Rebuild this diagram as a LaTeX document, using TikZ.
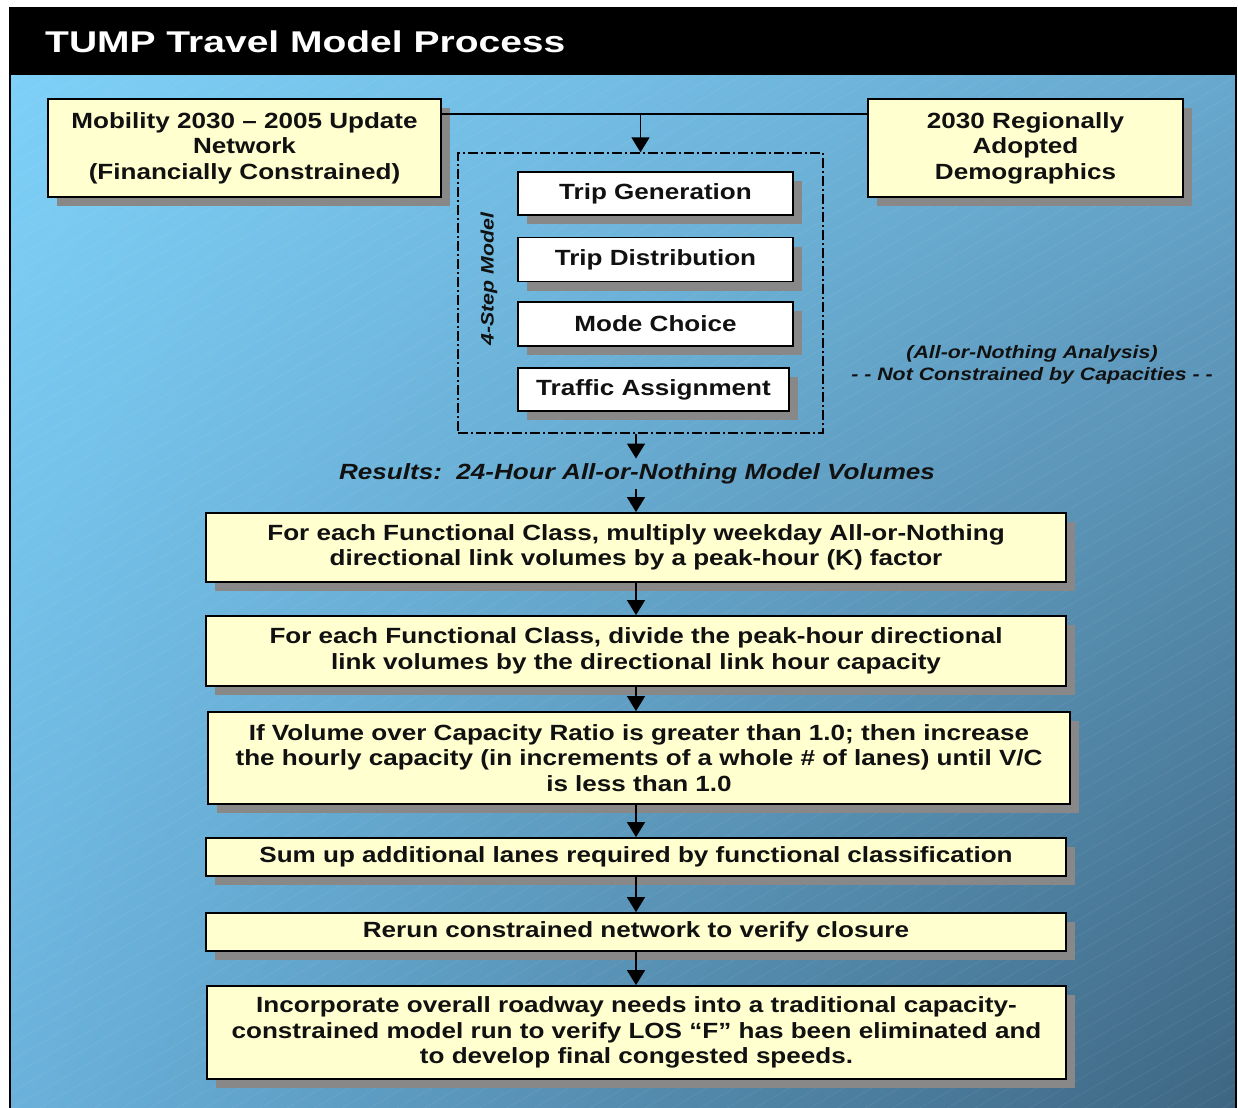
\documentclass[tikz,border=0pt]{standalone}
\usepackage{fontspec}
\setmainfont[FakeStretch=1.185]{Liberation Sans}
\newfontfamily\titlefont[FakeStretch=1.3]{Liberation Sans}
\usetikzlibrary{shadows,shadings,arrows.meta,calc}
\definecolor{cream}{RGB}{255,255,208}
\definecolor{shad}{RGB}{136,136,136}
\definecolor{bgTL}{RGB}{126,208,248}
\definecolor{bgTR}{RGB}{104,168,206}
\definecolor{bgBL}{RGB}{106,178,220}
\definecolor{bgBR}{RGB}{62,102,130}
\definecolor{ink}{RGB}{17,17,17}
\begin{document}
\begin{tikzpicture}[x=1pt,y=-1pt,
  box/.style={draw=black,line width=1.8pt,fill=cream,inner sep=0pt,align=center,text=ink,
     font=\fontsize{22}{25.5}\selectfont\bfseries,
     drop shadow={shadow xshift=9pt,shadow yshift=-9pt,fill=shad,opacity=1}},
  wbox/.style={box,fill=white},
  arr/.style={line width=1.5pt,draw=black,-{Triangle[width=18pt,length=15pt]}},
  lbl/.style={inner sep=0pt,align=center,text=ink},
]
\useasboundingbox (0,0) rectangle (1238,1107);
\fill[white] (0,0) rectangle (1238,1107);
% background
\shade[upper left=bgTL, upper right=bgTR, lower left=bgBL, lower right=bgBR] (10,75) rectangle (1236,1107);
\begin{scope}
  \clip (10,75) rectangle (1236,1107);
  \foreach \i in {0,...,120} {
    \draw[white,opacity=0.07,line width=0.7pt] (0,75+\i*16) -- ++(1238,-720);
  }
\end{scope}
\fill[black] (10,8) rectangle (1236,75);
\draw[black,line width=2pt] (10,1120) -- (10,8) -- (1236,8) -- (1236,1120);
\node[anchor=base west,inner sep=0pt,text=white,font=\titlefont\fontsize{30}{34}\selectfont\bfseries] (title) at (45,53) {TUMP Travel Model Process};

% top inputs
\node[box,minimum width=393pt,minimum height=98pt] (net) at (244.5,148)
  {Mobility 2030 – 2005 Update\\Network\\(Financially Constrained)};
\node[box,minimum width=315pt,minimum height=98pt] (demo) at (1025.5,148)
  {2030 Regionally\\Adopted\\Demographics};

% 4-step model
\node[draw=black,line width=1.3pt,dash pattern=on 10pt off 3pt on 2pt off 3pt,
      minimum width=365pt,minimum height=280pt,inner sep=0pt] (dash) at (640.5,293) {};
\node[wbox,minimum width=275pt,minimum height=43pt] (tg) at (655.5,193.5) {Trip Generation};
\node[wbox,minimum width=275pt,minimum height=44pt] (td) at (655.5,259.5) {Trip Distribution};
\node[wbox,minimum width=275pt,minimum height=44pt] (mc) at (655.5,324) {Mode Choice};
\node[wbox,minimum width=271pt,minimum height=43pt] (ta) at (653.5,389.5) {Traffic Assignment};
\node[lbl,rotate=90,font=\fontsize{18}{20}\selectfont\bfseries\itshape] (step) at (489,279) {4-Step Model};
\node[lbl,font=\fontsize{18}{22}\selectfont\bfseries\itshape] (side) at (1032,365)
  {(All-or-Nothing Analysis)\\- - Not Constrained by Capacities - -};

\coordinate (jn) at (640.5,115);
\draw[line width=1.5pt] ($(net.north east)+(0,16)$) -- ($(demo.north west)+(0,16)$);
\draw[arr] (dash.north |- jn) -- (dash.north);

\node[lbl,inner sep=5pt,font=\fontsize{22}{25}\selectfont\bfseries\itshape] (res) at (637,474)
  {Results:\ \ 24-Hour All-or-Nothing Model Volumes};

% process chain
\node[box,minimum width=860pt,minimum height=69pt] (c1) at (636,547.5)
  {For each Functional Class, multiply weekday All-or-Nothing\\directional link volumes by a peak-hour (K) factor};
\node[box,minimum width=860pt,minimum height=70pt] (c2) at (636,651)
  {For each Functional Class, divide the peak-hour directional\\link volumes by the directional link hour capacity};
\node[box,minimum width=862pt,minimum height=92pt] (c3) at (639,758)
  {If Volume over Capacity Ratio is greater than 1.0; then increase\\the hourly capacity (in increments of a whole \# of lanes) until V/C\\is less than 1.0};
\node[box,minimum width=860pt,minimum height=38pt] (c4) at (636,857)
  {Sum up additional lanes required by functional classification};
\node[box,minimum width=860pt,minimum height=38pt] (c5) at (636,932)
  {Rerun constrained network to verify closure};
\node[box,minimum width=859pt,minimum height=93pt] (c6) at (636.5,1032.5)
  {Incorporate overall roadway needs into a traditional capacity-\\constrained model run to verify LOS “F” has been eliminated and\\to develop final congested speeds.};

\draw[arr] (dash.south -| c1.north) -- (res.north -| c1.north);
\draw[arr] (res.south -| c1.north) -- (c1.north);
\draw[arr] (c1.south) -- (c2.north);
\draw[arr] (c2.south) -- (c2.south |- c3.north);
\draw[arr] (c4.north |- c3.south) -- (c4.north);
\draw[arr] (c4.south) -- (c5.north);
\draw[arr] (c5.south) -- (c6.north -| c5.south);
\end{tikzpicture}
\end{document}
